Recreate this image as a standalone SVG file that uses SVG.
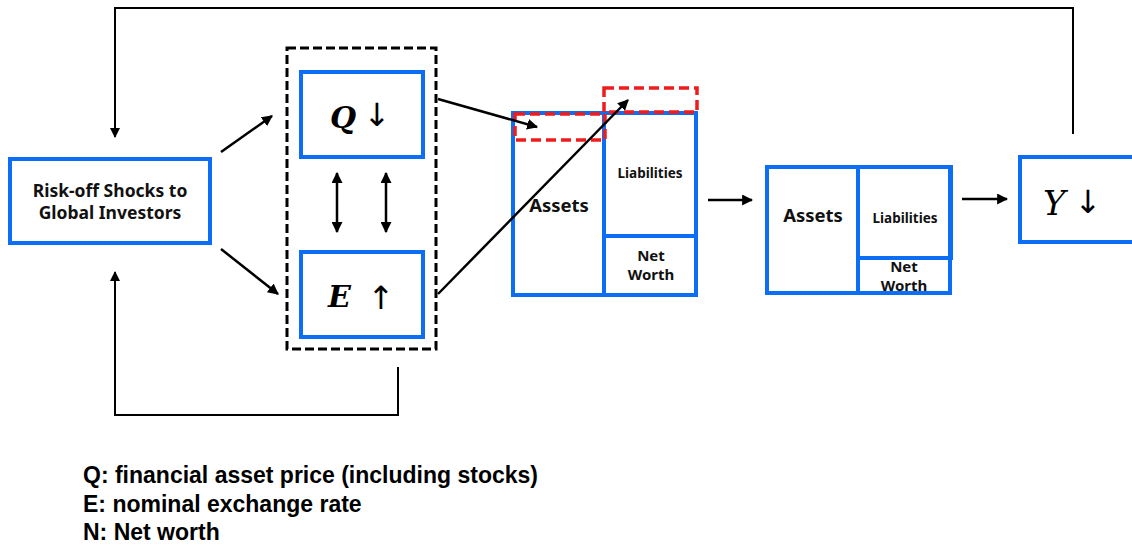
<svg xmlns="http://www.w3.org/2000/svg" width="1132" height="546" viewBox="0 0 1132 546">
  <style>
    .box { fill: #ffffff; stroke: #0b6ef5; stroke-width: 4; }
    .inner { fill: none; stroke: #0b6ef5; stroke-width: 4; }
    .group { fill: none; stroke: #000000; stroke-width: 3; stroke-dasharray: 9 4; }
    .hl { fill: none; stroke: #ee1c1c; stroke-width: 3.5; stroke-dasharray: 10 5; }
    .conn { fill: none; stroke: #000000; stroke-width: 2.5; }
    .loop { fill: none; stroke: #000000; stroke-width: 2; }
    .lbl { font-family: "Noto Sans", "Open Sans", sans-serif; font-weight: bold; fill: #111111; text-anchor: middle; }
    .math { font-family: "DejaVu Serif", "Liberation Serif", serif; font-style: italic; font-weight: bold; fill: #000000; }
    .arr { font-family: "DejaVu Sans", sans-serif; fill: #000000; text-anchor: middle; }
    .legend { font-family: "Liberation Sans", Arial, sans-serif; font-weight: bold; font-size: 23px; fill: #000000; }
  </style>
  <defs>
    <marker id="ah" viewBox="0 0 10 10" refX="9" refY="5" markerWidth="4.4" markerHeight="4.4" orient="auto-start-reverse">
      <path d="M0,0 L10,5 L0,10 z" fill="#000000"/>
    </marker>
    <marker id="ahs" viewBox="0 0 10 10" refX="9" refY="5" markerWidth="5" markerHeight="5" orient="auto-start-reverse">
      <path d="M0,0 L10,5 L0,10 z" fill="#000000"/>
    </marker>
  </defs>

  <rect width="1132" height="546" fill="#ffffff"/>

  <!-- shock source -->
  <g id="node-shocks">
    <rect class="box" x="10" y="159" width="200" height="84"/>
    <text class="lbl" x="110" y="197" font-size="17.5">Risk-off Shocks to</text>
    <text class="lbl" x="110" y="219" font-size="17.5">Global Investors</text>
  </g>

  <!-- prices group -->
  <g id="node-prices">
    <rect class="group" x="287" y="48" width="149" height="301"/>
  </g>
  <g id="node-q">
    <rect class="box" x="301" y="72" width="122" height="85"/>
    <text class="math" x="330" y="128" font-size="30">Q</text>
    <text class="arr" x="377" y="126" font-size="32">↓</text>
  </g>
  <g id="node-e">
    <rect class="box" x="301" y="252" width="122" height="85"/>
    <text class="math" x="328" y="307" font-size="30">E</text>
    <text class="arr" x="381" y="309" font-size="32">↑</text>
  </g>

  <!-- balance sheet before -->
  <g id="node-bs1">
    <rect class="box" x="513" y="113" width="183" height="182"/>
    <line class="inner" x1="604" y1="113" x2="604" y2="295"/>
    <line class="inner" x1="604" y1="236" x2="696" y2="236"/>
    <text class="lbl" x="559" y="212" font-size="18.5">Assets</text>
    <text class="lbl" x="650" y="178" font-size="13.5">Liabilities</text>
    <text class="lbl" x="651" y="261" font-size="15">Net</text>
    <text class="lbl" x="651" y="280" font-size="15">Worth</text>
    <rect class="hl" x="515" y="114" width="90" height="26"/>
    <rect class="hl" x="604" y="88" width="93" height="24"/>
  </g>

  <!-- balance sheet after -->
  <g id="node-bs2">
    <rect class="box" x="767" y="167" width="183" height="126"/>
    <line class="inner" x1="858" y1="167" x2="858" y2="293"/>
    <rect class="inner" x="858" y="167" width="93" height="91"/>
    <text class="lbl" x="813" y="222" font-size="18.5">Assets</text>
    <text class="lbl" x="905" y="223" font-size="13.5">Liabilities</text>
    <text class="lbl" x="904" y="272" font-size="15">Net</text>
    <text class="lbl" x="904" y="291" font-size="15">Worth</text>
  </g>

  <!-- output -->
  <g id="node-y">
    <rect class="box" x="1020" y="157" width="120" height="85"/>
    <text x="1043" y="215" font-family="DejaVu Serif, Liberation Serif, serif" font-style="italic" font-size="34" fill="#000000">Y</text>
    <text class="arr" x="1088" y="213" font-size="32">↓</text>
  </g>

  <g id="connectors">
    <line class="conn" x1="221" y1="152" x2="272" y2="116" marker-end="url(#ah)"/>
    <line class="conn" x1="221" y1="249" x2="278" y2="294" marker-end="url(#ah)"/>
    <line class="conn" x1="337" y1="173" x2="337" y2="232" marker-start="url(#ah)" marker-end="url(#ah)"/>
    <line class="conn" x1="386" y1="173" x2="386" y2="232" marker-start="url(#ah)" marker-end="url(#ah)"/>
    <line class="conn" x1="438" y1="99" x2="537" y2="127" marker-end="url(#ah)"/>
    <line class="conn" x1="438" y1="294" x2="628" y2="100" marker-end="url(#ah)"/>
    <line class="conn" x1="708" y1="200" x2="752" y2="200" marker-end="url(#ah)"/>
    <line class="conn" x1="962" y1="199" x2="1007" y2="199" marker-end="url(#ah)"/>
    <polyline class="loop" points="1073,134 1073,8 115,8 115,137" marker-end="url(#ahs)"/>
    <polyline class="loop" points="398,367 398,415 115,415 115,272" marker-end="url(#ahs)"/>
  </g>

  <g id="legend">
    <text class="legend" x="83" y="483">Q: financial asset price (including stocks)</text>
    <text class="legend" x="83" y="512">E: nominal exchange rate</text>
    <text class="legend" x="83" y="540">N: Net worth</text>
  </g>
</svg>
